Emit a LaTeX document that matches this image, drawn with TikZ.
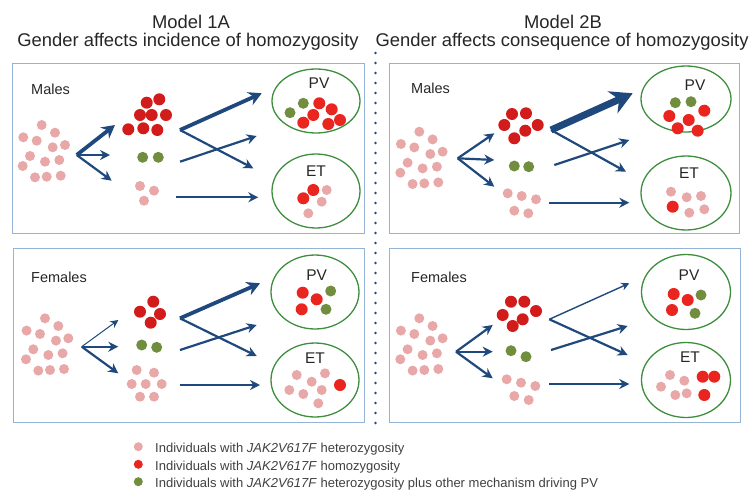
\documentclass[tikz,border=0pt]{standalone}
\usepackage{fontspec}
\setmainfont{Liberation Sans}
\usetikzlibrary{arrows.meta, shapes.geometric}

\definecolor{hetpink}{RGB}{232,168,168}
\definecolor{homred}{RGB}{234,36,30}
\definecolor{homdark}{RGB}{210,28,28}
\definecolor{othgreen}{RGB}{112,142,62}
\definecolor{ellgreen}{RGB}{62,142,62}
\definecolor{flowblue}{RGB}{31,73,125}
\definecolor{panelblue}{RGB}{149,179,215}

\newcommand{\hetcrowd}[1]{%
  \begin{scope}[shift={#1}]
    \foreach \p in {(0,0),(-18.4,12.3),(-5,15.7),(13.3,7.7),(23.3,20),(11,22.3),(-11.7,31),(-19,41),(3.3,36.7),(17.6,35),(-6.7,52.3),(5,51.7),(19,50.7)}
      \fill[het] \p circle[radius=5pt];
  \end{scope}}

\begin{document}
\begin{tikzpicture}[
x=1pt, y=-1pt,
title/.style={anchor=base, inner sep=0pt, font=\fontsize{18.4}{22}\selectfont, text=black!85},
txt/.style={anchor=base west, inner sep=0pt, font=\fontsize{14.5}{17}\selectfont, text=black!85},
lab/.style={anchor=base, inner sep=0pt, font=\fontsize{15.5}{18}\selectfont, text=black!85},
key/.style={anchor=base west, inner sep=0pt, font=\fontsize{13}{15}\selectfont, text=black!75},
panel/.style={draw=panelblue, line width=0.9pt},
grp/.style={ellipse, draw=ellgreen, line width=1.3pt, minimum width=88pt, inner sep=0pt},
het/.style={fill=hetpink},
hom/.style={fill=homred},
homc/.style={fill=homdark},
oth/.style={fill=othgreen},
flowthin/.style={-{Stealth[length=8pt, width=8pt]}, line width=1pt, flowblue},
flow/.style={-{Stealth[length=10pt, width=10pt]}, line width=2.2pt, flowblue},
flowbold/.style={-{Stealth[length=13pt, width=14pt]}, line width=3.8pt, flowblue},
flowhuge/.style={-{Stealth[length=22pt, width=24pt]}, line width=7pt, flowblue}
]
\useasboundingbox (0,0) rectangle (753,501);

\node[title] (titleA) at (191,28.3) {Model 1A};
\node[title] (subA) at (188,46) {Gender affects incidence of homozygosity};
\node[title] (titleB) at (563,28.3) {Model 2B};
\node[title] (subB) at (562,46) {Gender affects consequence of homozygosity};

\draw[panel] (12,63) rectangle (364,233);
\draw[panel] (389,63) rectangle (739,233);
\draw[panel] (13,248) rectangle (364,422);
\draw[panel] (389,248) rectangle (740,422);

\coordinate (sepTop) at (375.5,53);
\coordinate (sepBot) at (375.5,424);
\draw[flowblue, line width=2.8pt, line cap=round, dash pattern=on 0pt off 10pt] (sepTop) -- (sepBot);

% Model 1A, males
\node[txt] (malesA) at (31,94) {Males};
\hetcrowd{(41.7,125)}
\foreach \p in {(146.7,102.7),(159.3,99.3),(140,115),(151.7,115),(166,115),(128.3,129.3),(143.3,128.3),(157.3,130)}
  \fill[homc] \p circle[radius=6pt];
\foreach \p in {(142.7,157.3),(158.3,157.3)}
  \fill[oth] \p circle[radius=5.5pt];
\foreach \p in {(140,186),(154,190.7),(144,200.7)}
  \fill[het] \p circle[radius=5pt];
\node[grp, minimum height=64pt] (pvMA) at (316,101) {};
\node[grp, minimum height=74pt] (etMA) at (316,191) {};
\node[lab] (pvMA-lab) at (319,88) {PV};
\node[lab] (etMA-lab) at (316,176.7) {ET};
\foreach \p in {(290,112.7),(303.3,103.3)}
  \fill[oth] \p circle[radius=5.5pt];
\foreach \p in {(319.3,103.3),(331.7,109.3),(313.3,115),(303.3,122.7),(328.3,124),(340,120),(313.3,190),(303.3,198.3)}
  \fill[hom] \p circle[radius=6pt];
\foreach \p in {(326.7,190),(321.7,201.7),(308.3,213.3)}
  \fill[het] \p circle[radius=5pt];
\coordinate (mA-src) at (76.7,155);
\coordinate (mA-hom) at (115,125);
\coordinate (mA-oth) at (110,155);
\coordinate (mA-het) at (111.7,180.7);
\coordinate (mA-homo) at (180,130);
\coordinate (mA-otho) at (180,161.7);
\coordinate (mA-heto) at (176,197.3);
\coordinate (mA-pv1) at (261.7,93.3);
\coordinate (mA-pv2) at (256.7,136);
\coordinate (mA-et1) at (253.3,168.3);
\coordinate (mA-et2) at (258.3,197.3);
\draw[flowbold] (mA-src) -- (mA-hom);
\draw[flow] (mA-src) -- (mA-oth);
\draw[flow] (mA-src) -- (mA-het);
\draw[flowbold] (mA-homo) -- (mA-pv1);
\draw[flow] (mA-homo) -- (mA-et1);
\draw[flow] (mA-otho) -- (mA-pv2);
\draw[flow] (mA-heto) -- (mA-et2);

% Model 2B, males
\node[txt] (malesB) at (411,93) {Males};
\hetcrowd{(419.3,131.7)}
\foreach \p in {(512,114),(526,113.3),(537.7,125),(504.3,125),(525.3,130.7),(514.3,138.3)}
  \fill[homc] \p circle[radius=6pt];
\foreach \p in {(514.3,166),(528.7,166.7)}
  \fill[oth] \p circle[radius=5.5pt];
\foreach \p in {(507.7,193.3),(521.7,196),(536,199.3),(514.3,210.7),(528.3,213.3)}
  \fill[het] \p circle[radius=5pt];
\node[grp, minimum width=90pt, minimum height=66pt] (pvMB) at (686,99) {};
\node[grp, minimum width=90pt, minimum height=74pt] (etMB) at (686,193) {};
\node[lab] (pvMB-lab) at (695,90) {PV};
\node[lab] (etMB-lab) at (689,178.3) {ET};
\foreach \p in {(675.3,102.7),(691,101.7)}
  \fill[oth] \p circle[radius=5.5pt];
\foreach \p in {(669.3,116),(688.7,120),(704.3,110.7),(677.7,128.3),(697.7,130.7),(672.7,206.7)}
  \fill[hom] \p circle[radius=6pt];
\foreach \p in {(671,191.7),(686.7,197.3),(701,196),(689.3,212.7),(704.3,209.3)}
  \fill[het] \p circle[radius=5pt];
\coordinate (mB-src) at (457.7,158.3);
\coordinate (mB-hom) at (494.3,133.3);
\coordinate (mB-oth) at (494.3,160);
\coordinate (mB-het) at (494.3,186.7);
\coordinate (mB-homo) at (551,130);
\coordinate (mB-otho) at (554.3,165);
\coordinate (mB-heto) at (549.3,202.7);
\coordinate (mB-pv1) at (632.7,93.3);
\coordinate (mB-pv2) at (629.3,140);
\coordinate (mB-et1) at (626,171.7);
\coordinate (mB-et2) at (629.3,202.7);
\draw[flow] (mB-src) -- (mB-hom);
\draw[flow] (mB-src) -- (mB-oth);
\draw[flow] (mB-src) -- (mB-het);
\draw[flowhuge] (mB-homo) -- (mB-pv1);
\draw[flow] (mB-homo) -- (mB-et1);
\draw[flow] (mB-otho) -- (mB-pv2);
\draw[flow] (mB-heto) -- (mB-et2);

% Model 1A, females
\node[txt] (femalesA) at (31,282) {Females};
\hetcrowd{(45,318.3)}
\foreach \p in {(153.3,301.7),(140,311.7),(160,314),(150.7,322.7)}
  \fill[homc] \p circle[radius=6pt];
\foreach \p in {(141.7,345),(156.7,347.3)}
  \fill[oth] \p circle[radius=5.5pt];
\foreach \p in {(136.7,370),(154,372.7),(131.7,384),(145.7,384),(161.7,384),(140,396.7),(154,396.7)}
  \fill[het] \p circle[radius=5pt];
\node[grp, minimum height=74pt] (pvFA) at (315,292) {};
\node[grp, minimum height=74pt] (etFA) at (315,380) {};
\node[lab] (pvFA-lab) at (316.7,280) {PV};
\node[lab] (etFA-lab) at (315,363.3) {ET};
\foreach \p in {(330.7,291),(326,309.3)}
  \fill[oth] \p circle[radius=5.5pt];
\foreach \p in {(302.7,292.7),(316.7,299.3),(301.7,309.3),(340,385)}
  \fill[hom] \p circle[radius=6pt];
\foreach \p in {(296.7,375),(311.7,381.7),(325,373.3),(289.3,390),(303.3,394),(321.7,390),(318.3,403.3)}
  \fill[het] \p circle[radius=5pt];
\coordinate (fA-src) at (81.7,346.7);
\coordinate (fA-hom) at (118.3,320);
\coordinate (fA-oth) at (118.3,346.7);
\coordinate (fA-het) at (118.3,373.3);
\coordinate (fA-homo) at (180,318.3);
\coordinate (fA-otho) at (180,350);
\coordinate (fA-heto) at (180,385);
\coordinate (fA-pv1) at (260,283.3);
\coordinate (fA-pv2) at (256.7,325);
\coordinate (fA-et1) at (256.7,356);
\coordinate (fA-et2) at (260,385);
\draw[flowthin] (fA-src) -- (fA-hom);
\draw[flow] (fA-src) -- (fA-oth);
\draw[flow] (fA-src) -- (fA-het);
\draw[flowbold] (fA-homo) -- (fA-pv1);
\draw[flow] (fA-homo) -- (fA-et1);
\draw[flow] (fA-otho) -- (fA-pv2);
\draw[flow] (fA-heto) -- (fA-et2);

% Model 2B, females
\node[txt] (femalesB) at (411,282) {Females};
\hetcrowd{(419.3,318.3)}
\foreach \p in {(511,301.7),(524.3,301.7),(536,311),(502.7,315),(522.7,319.3),(512.7,326)}
  \fill[homc] \p circle[radius=6pt];
\foreach \p in {(511,350.7),(526,356.7)}
  \fill[oth] \p circle[radius=5.5pt];
\foreach \p in {(506.7,379.3),(521,382.7),(535.3,386),(514.3,396),(528.7,400)}
  \fill[het] \p circle[radius=5pt];
\node[grp, minimum width=89pt, minimum height=75pt] (pvFB) at (686,292) {};
\node[grp, minimum width=89pt, minimum height=75pt] (etFB) at (686,380) {};
\node[lab] (pvFB-lab) at (689,280) {PV};
\node[lab] (etFB-lab) at (690,362.7) {ET};
\foreach \p in {(701,295),(695,313.3)}
  \fill[oth] \p circle[radius=5.5pt];
\foreach \p in {(673.7,294),(687.7,300),(672,310),(702.7,376.7),(714.3,376.7),(704.3,395)}
  \fill[hom] \p circle[radius=6pt];
\foreach \p in {(670,375),(684.3,380.7),(661,386.7),(675.3,395),(686.7,393.3)}
  \fill[het] \p circle[radius=5pt];
\coordinate (fB-src) at (456,351.7);
\coordinate (fB-hom) at (492.7,325);
\coordinate (fB-oth) at (492.7,351.7);
\coordinate (fB-het) at (492.7,378.3);
\coordinate (fB-homo) at (549.3,319.3);
\coordinate (fB-otho) at (551,350);
\coordinate (fB-heto) at (549.3,384);
\coordinate (fB-pv1) at (629.3,283.3);
\coordinate (fB-pv2) at (627.7,326);
\coordinate (fB-et1) at (627.7,355);
\coordinate (fB-et2) at (629.3,384);
\draw[flow] (fB-src) -- (fB-hom);
\draw[flow] (fB-src) -- (fB-oth);
\draw[flow] (fB-src) -- (fB-het);
\draw[flowthin, line width=1.4pt] (fB-homo) -- (fB-pv1);
\draw[flow] (fB-homo) -- (fB-et1);
\draw[flow] (fB-otho) -- (fB-pv2);
\draw[flow] (fB-heto) -- (fB-et2);

% legend
\fill[het] (138.3,446.7) circle[radius=4.5pt];
\fill[hom] (138.3,464.3) circle[radius=4.5pt];
\fill[oth] (138.3,481.7) circle[radius=4.5pt];
\node[key] (keyHet) at (155,452.3) {Individuals with \textit{JAK2V617F} heterozygosity};
\node[key] (keyHom) at (155,470) {Individuals with \textit{JAK2V617F} homozygosity};
\node[key] (keyOth) at (155,487.3) {Individuals with \textit{JAK2V617F} heterozygosity plus other mechanism driving PV};
\end{tikzpicture}
\end{document}
